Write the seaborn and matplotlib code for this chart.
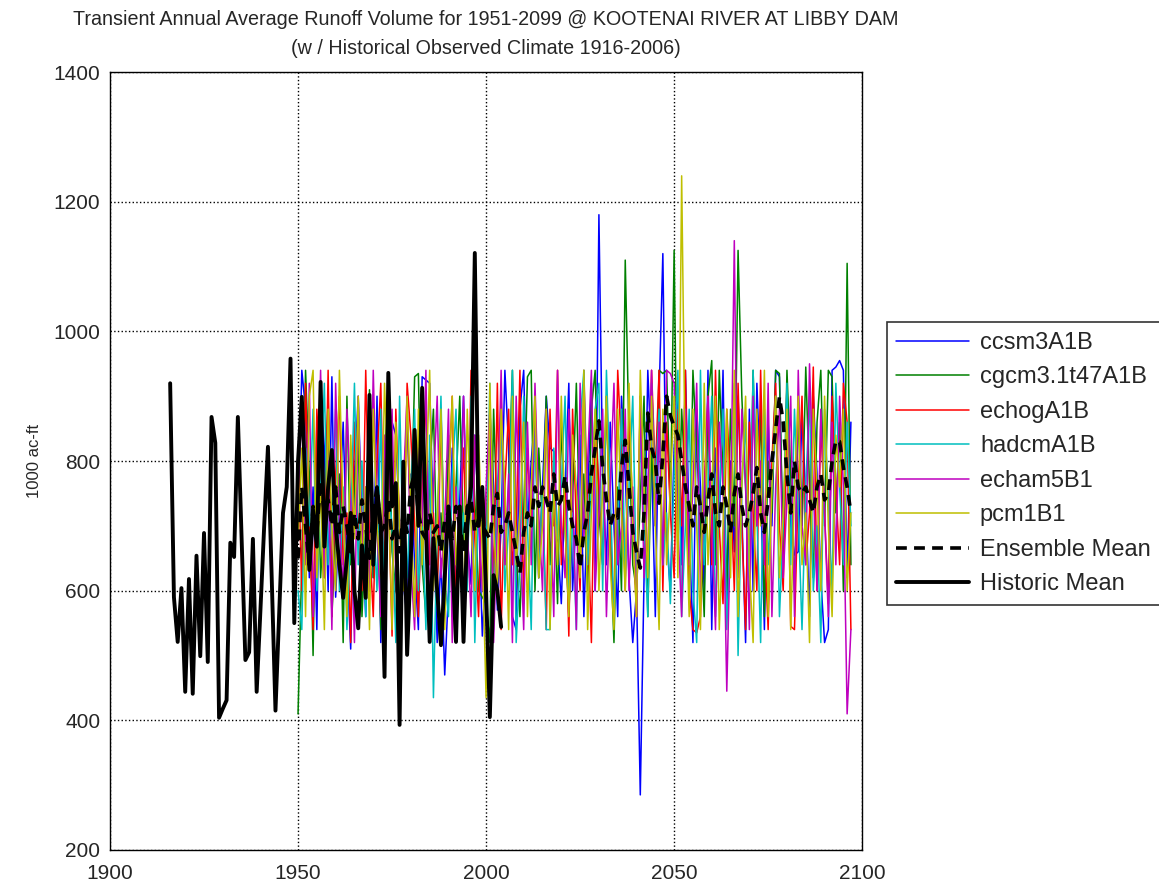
import numpy as np
import pandas as pd
import matplotlib
matplotlib.use('Agg')
import matplotlib.pyplot as plt
import seaborn as sns

# historic observed (1916-2004 as drawn)
hist_years = list(range(1916, 2005))
hist_vals = [920, 590, 521, 604, 444, 618, 441, 654, 499, 689,
             490, 868, 828, 404, 418, 431, 674, 652, 868, 680,
             493, 505, 680, 444, 570, 700, 822, 620, 415, 567,
             720, 760, 958, 550, 800, 899, 760, 632, 724, 668,
             922, 668, 760, 817, 700, 640, 589, 650, 720, 600,
             542, 670, 589, 902, 640, 758, 700, 467, 936, 730,
             766, 393, 799, 501, 650, 848, 700, 913, 700, 521,
             681, 600, 516, 620, 730, 650, 521, 730, 521, 700,
             760, 1121, 700, 760, 600, 405, 624, 600, 544]

model_years = list(range(1950, 2098))

ccsm3 = [700, 940, 880, 620, 760, 540, 910, 820, 600, 930,
         590, 720, 860, 650, 510, 780, 900, 700, 560, 840,
         620, 900, 520, 760, 880, 860, 840, 700, 610, 560,
         780, 640, 540, 930, 925, 920, 700, 520, 650, 470,
         600, 820, 560, 740, 900, 680, 610, 840, 720, 530,
         640, 880, 760, 570, 700, 940, 820, 560, 540, 880,
         940, 700, 800, 870, 620, 760, 900, 820, 815, 680,
         580, 760, 920, 600, 720, 840, 560, 740, 920, 600,
         1180, 780, 640, 860, 700, 560, 900, 780, 620, 520,
         600, 285, 620, 940, 800, 560, 900, 1120, 680, 600,
         820, 900, 640, 940, 700, 520, 880, 760, 600, 940,
         540, 820, 700, 940, 560, 800, 660, 900, 720, 520,
         880, 600, 920, 760, 540, 860, 700, 940, 930, 650,
         920, 700, 655, 660, 880, 740, 560, 900, 780, 620,
         520, 540, 940, 945, 955, 940, 620, 860]

cgcm3 = [410, 640, 940, 780, 500, 860, 620, 720, 900, 560,
         690, 780, 520, 900, 640, 760, 840, 560, 700, 910,
         620, 740, 540, 800, 920, 660, 600, 580, 760, 860,
         700, 930, 935, 640, 560, 780, 880, 620, 720, 600,
         840, 560, 760, 900, 680, 620, 860, 740, 600, 590,
         580, 520, 880, 700, 900, 640, 760, 940, 660, 560,
         720, 930, 940, 600, 820, 700, 900, 640, 760, 580,
         860, 700, 560, 740, 920, 660, 780, 600, 880, 940,
         720, 640, 900, 680, 520, 760, 600, 1110, 840, 640,
         600, 740, 900, 560, 820, 700, 940, 935, 940, 720,
         1125, 660, 880, 760, 600, 940, 820, 700, 560, 900,
         955, 640, 940, 780, 600, 880, 700, 1125, 900, 760,
         620, 940, 700, 880, 560, 800, 720, 940, 935, 660,
         940, 780, 600, 880, 700, 945, 760, 620, 860, 940,
         700, 940, 930, 720, 860, 600, 1105, 640]

echog = [820, 600, 920, 700, 540, 880, 760, 620, 940, 560,
         780, 900, 640, 720, 520, 860, 700, 600, 940, 680,
         560, 800, 920, 640, 760, 530, 880, 700, 600, 920,
         840, 700, 560, 760, 900, 640, 720, 580, 880, 660,
         760, 900, 540, 700, 820, 620, 940, 680, 560, 760,
         700, 860, 600, 920, 540, 760, 880, 640, 700, 940,
         580, 820, 700, 900, 620, 760, 540, 880, 700, 940,
         640, 760, 530, 880, 700, 600, 940, 720, 520, 860,
         760, 640, 900, 700, 560, 940, 820, 600, 880, 720,
         560, 900, 700, 640, 940, 780, 940, 600, 860, 720,
         620, 880, 700, 940, 600, 540, 535, 560, 760, 900,
         640, 940, 700, 580, 880, 760, 600, 920, 700, 540,
         860, 720, 600, 940, 680, 540, 800, 920, 700, 600,
         880, 545, 540, 760, 900, 640, 720, 945, 600, 860,
         720, 580, 900, 760, 640, 920, 860, 540]

hadcm = [600, 540, 820, 700, 880, 600, 760, 920, 640, 720,
         880, 600, 760, 540, 700, 920, 640, 800, 560, 860,
         720, 600, 880, 540, 760, 700, 520, 900, 640, 620,
         760, 880, 600, 720, 540, 840, 435, 700, 900, 620,
         560, 780, 880, 640, 720, 600, 900, 520, 760, 700,
         640, 920, 540, 760, 880, 600, 700, 940, 520, 640,
         900, 700, 540, 880, 620, 760, 540, 540, 820, 680,
         760, 900, 600, 720, 540, 860, 940, 640, 760, 880,
         920, 600, 940, 760, 560, 700, 880, 620, 760, 900,
         600, 840, 700, 560, 920, 760, 880, 640, 720, 580,
         780, 940, 560, 700, 880, 600, 520, 940, 640, 760,
         900, 560, 740, 880, 540, 700, 920, 500, 760, 860,
         600, 940, 720, 520, 880, 640, 760, 900, 560, 700,
         920, 640, 880, 720, 540, 760, 900, 600, 700, 520,
         880, 740, 600, 920, 760, 640, 860, 700]

echam5 = [760, 880, 640, 920, 560, 700, 940, 620, 800, 540,
          920, 700, 600, 880, 740, 520, 900, 660, 760, 600,
          940, 700, 560, 840, 720, 880, 620, 500, 760, 900,
          640, 540, 820, 700, 940, 560, 760, 900, 620, 700,
          880, 520, 760, 640, 900, 700, 560, 840, 720, 600,
          760, 880, 520, 700, 940, 640, 780, 520, 900, 700,
          540, 860, 640, 920, 720, 600, 880, 740, 560, 940,
          700, 620, 880, 760, 540, 920, 680, 800, 940, 600,
          720, 880, 560, 760, 920, 640, 700, 880, 600, 760,
          560, 900, 620, 760, 940, 700, 860, 640, 940, 935,
          920, 700, 560, 880, 640, 760, 920, 600, 740, 900,
          700, 540, 860, 760, 445, 700, 1140, 620, 880, 760,
          540, 900, 700, 800, 640, 920, 560, 760, 880, 620,
          740, 900, 560, 940, 700, 640, 950, 760, 600, 880,
          720, 560, 860, 640, 900, 760, 410, 540]

pcm1 = [680, 820, 560, 900, 940, 620, 760, 540, 880, 700,
        600, 940, 720, 560, 840, 680, 900, 620, 760, 540,
        880, 700, 620, 920, 760, 540, 860, 700, 600, 900,
        720, 560, 880, 640, 760, 940, 600, 700, 880, 540,
        760, 900, 640, 720, 560, 880, 700, 600, 840, 660,
        435, 920, 700, 600, 880, 760, 540, 900, 640, 720,
        860, 560, 760, 900, 620, 700, 880, 540, 760, 640,
        900, 700, 560, 840, 760, 620, 940, 540, 720, 880,
        600, 760, 900, 640, 540, 880, 720, 600, 920, 700,
        560, 940, 760, 620, 900, 700, 540, 880, 640, 760,
        900, 620, 1240, 760, 560, 880, 700, 540, 920, 640,
        760, 900, 540, 700, 880, 620, 940, 560, 760, 900,
        640, 520, 880, 700, 940, 560, 760, 900, 620, 720,
        880, 540, 760, 900, 640, 720, 520, 880, 760, 600,
        900, 700, 560, 840, 760, 880, 600, 720]

ensemble = [650, 760, 700, 640, 730, 690, 770, 720, 740, 700,
            760, 690, 730, 700, 660, 720, 680, 740, 700, 650,
            720, 760, 690, 700, 740, 680, 700, 660, 720, 690,
            760, 780, 720, 690, 680, 720, 690, 700, 660, 710,
            720, 680, 730, 700, 660, 730, 740, 690, 710, 700,
            690, 680, 730, 750, 690, 700, 720, 690, 660, 627,
            690, 720, 700, 760, 730, 760, 740, 720, 780, 730,
            740, 777, 730, 700, 680, 635, 690, 720, 780, 820,
            862, 790, 740, 700, 720, 712, 790, 832, 760, 690,
            660, 635, 720, 874, 820, 800, 735, 810, 900, 870,
            853, 840, 800, 760, 730, 700, 760, 730, 690, 740,
            780, 720, 700, 760, 730, 690, 750, 780, 730, 700,
            720, 750, 790, 720, 690, 740, 800, 850, 899, 860,
            780, 720, 800, 760, 750, 760, 740, 720, 760, 780,
            740, 750, 800, 832, 830, 790, 760, 720]

model_names = ['ccsm3A1B', 'cgcm3.1t47A1B', 'echogA1B', 'hadcmA1B', 'echam5B1', 'pcm1B1']
model_vals = [ccsm3, cgcm3, echog, hadcm, echam5, pcm1]
model_colors = ['#0000ff', '#008000', '#ff0000', '#00bfbf', '#bf00bf', '#bfbf00']

sns.set_style('white')
plt.rcParams['font.family'] = ['Liberation Sans', 'DejaVu Sans']

fig = plt.figure(figsize=(11.59, 8.88), dpi=100)
ax = fig.add_axes([0.0949, 0.0428, 0.649, 0.876])

for name, vals, col in zip(model_names, model_vals, model_colors):
    sns.lineplot(x=model_years, y=vals, ax=ax, color=col, lw=1.1, label=name)

sns.lineplot(x=model_years, y=ensemble, ax=ax, color='k', lw=2.6,
             linestyle=(0, (3, 2)), label='Ensemble Mean')
sns.lineplot(x=hist_years, y=hist_vals, ax=ax, color='k', lw=2.8, label='Historic Mean')

ax.set_xlim(1900, 2100)
ax.set_ylim(200, 1400)
ax.set_xticks([1900, 1950, 2000, 2050, 2100])
ax.set_yticks([200, 400, 600, 800, 1000, 1200, 1400])
ax.grid(True, linestyle=':', color='k', lw=1.0)
for s in ax.spines.values():
    s.set_color('k')
    s.set_linewidth(1.0)
ax.tick_params(axis='both', labelsize=15, direction='in', length=5, color='k', width=1)
ax.tick_params(axis='x', pad=10)
ax.tick_params(axis='y', pad=7)

ax.set_ylabel('1000 ac-ft', fontsize=12, labelpad=8)
ax.set_title('Transient Annual Average Runoff Volume for 1951-2099 @ KOOTENAI RIVER AT LIBBY DAM\n'
             '(w / Historical Observed Climate 1916-2006)',
             fontsize=14.2, linespacing=1.65, pad=13)

leg = ax.legend(loc='upper left', bbox_to_anchor=(0.765, 0.637), bbox_transform=fig.transFigure,
                fontsize=17, frameon=True, fancybox=False, edgecolor='k',
                handlelength=3.1, handletextpad=0.45, labelspacing=0.53,
                borderaxespad=0, borderpad=0.4)
leg.get_frame().set_linewidth(1.2)

fig.savefig('out.png', dpi=100)
